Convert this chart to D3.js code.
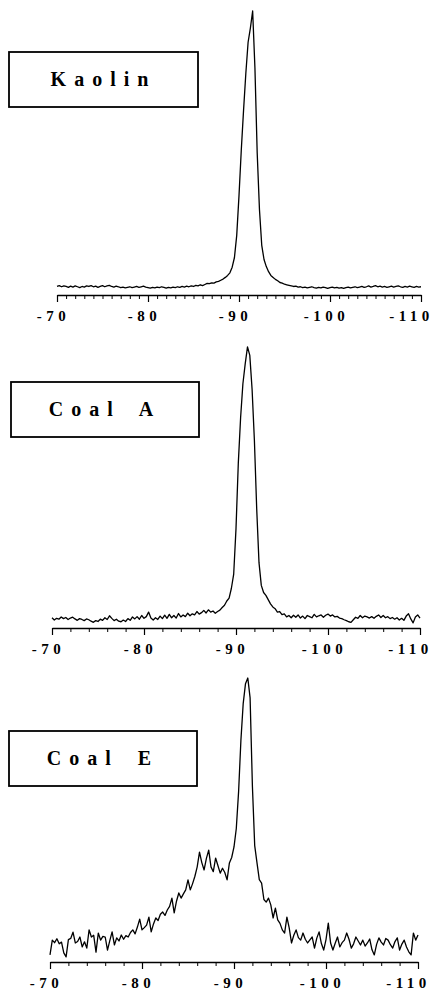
<!DOCTYPE html>
<html>
<head>
<meta charset="utf-8">
<script src="https://cdn.jsdelivr.net/npm/d3@7"></script>
<style>
  body { margin: 0; background: #fff; }
  svg text { font-family: "Liberation Serif", "DejaVu Serif", serif; font-weight: bold; fill: #000; }
</style>
</head>
<body>
<div id="chart"></div>
<script>
// chemical shift grid (ppm), shared by all three spectra
var shifts = [
  -70, -70.25, -70.5, -70.75, -71, -71.25, -71.5, -71.75, -72, -72.25, -72.5, -72.75,
  -73, -73.25, -73.5, -73.75, -74, -74.25, -74.5, -74.75, -75, -75.25, -75.5, -75.75,
  -76, -76.25, -76.5, -76.75, -77, -77.25, -77.5, -77.75, -78, -78.25, -78.5, -78.75,
  -79, -79.25, -79.5, -79.75, -80, -80.25, -80.5, -80.75, -81, -81.25, -81.5, -81.75,
  -82, -82.25, -82.5, -82.75, -83, -83.25, -83.5, -83.75, -84, -84.25, -84.5, -84.75,
  -85, -85.25, -85.5, -85.75, -86, -86.25, -86.5, -86.75, -87, -87.25, -87.5, -87.75,
  -88, -88.25, -88.5, -88.75, -89, -89.25, -89.5, -89.75, -90, -90.25, -90.5, -90.75,
  -91, -91.25, -91.5, -91.75, -92, -92.25, -92.5, -92.75, -93, -93.25, -93.5, -93.75,
  -94, -94.25, -94.5, -94.75, -95, -95.25, -95.5, -95.75, -96, -96.25, -96.5, -96.75,
  -97, -97.25, -97.5, -97.75, -98, -98.25, -98.5, -98.75, -99, -99.25, -99.5, -99.75,
  -100, -100.25, -100.5, -100.75, -101, -101.25, -101.5, -101.75, -102, -102.25, -102.5, -102.75,
  -103, -103.25, -103.5, -103.75, -104, -104.25, -104.5, -104.75, -105, -105.25, -105.5, -105.75,
  -106, -106.25, -106.5, -106.75, -107, -107.25, -107.5, -107.75, -108, -108.25, -108.5, -108.75,
  -109, -109.25, -109.5, -109.75, -110
];

// relative intensities (peak = 100)
var kaolin = [
  3.0, 3.3, 2.9, 3.2, 3.0, 2.7, 3.1, 2.8, 3.2, 2.9, 2.6, 3.0,
  2.8, 3.2, 3.0, 3.3, 2.9, 3.1, 2.7, 3.0, 3.3, 2.9, 3.2, 3.4,
  3.0, 2.8, 3.1, 2.9, 2.6, 2.8, 2.5, 2.7, 2.9, 2.6, 2.8, 3.0,
  2.7, 2.9, 3.1, 2.8, 2.6, 2.4, 2.7, 2.5, 2.8, 2.6, 2.9, 2.7,
  2.4, 2.7, 2.5, 2.8, 2.6, 2.9, 2.7, 3.0, 2.8, 3.1, 2.9, 3.2,
  3.0, 3.4, 3.2, 3.6, 3.3, 3.7, 4.1, 4.0, 4.3, 4.2, 4.6, 4.8,
  5.2, 5.6, 6.2, 6.9, 7.8, 9.8, 13.2, 21, 35, 51, 65, 78,
  89, 94, 100, 80, 50, 30, 17.5, 12.5, 10, 8.2, 6.9, 6.2,
  5.5, 5.0, 4.4, 4.2, 3.8, 3.6, 3.4, 3.2, 3.0, 3.1, 2.8, 2.9,
  2.6, 2.8, 2.5, 2.7, 2.9, 2.6, 2.4, 2.7, 2.5, 2.8, 2.6, 2.3,
  2.6, 2.8, 2.5, 2.7, 2.4, 2.6, 2.3, 2.6, 2.8, 2.5, 2.7, 2.9,
  2.6, 2.8, 3.0, 2.7, 2.9, 3.2, 2.8, 3.0, 3.3, 2.9, 3.1, 2.8,
  3.0, 2.7, 2.9, 3.1, 2.8, 3.0, 3.2, 2.9, 2.7, 3.0, 2.8, 3.1,
  2.9, 2.7, 3.0, 2.8, 2.9
];

var coalA = [
  3.6, 2.8, 3.4, 3.1, 3.9, 3.3, 3.7, 3.0, 3.5, 3.8, 3.2, 2.7,
  3.3, 3.0, 2.6, 3.2, 2.9, 2.4, 2.0, 2.6, 2.3, 3.1, 2.7, 3.6,
  3.0, 4.3, 3.4, 2.6, 3.1, 2.4, 2.2, 2.8, 2.3, 3.3, 2.7, 3.9,
  3.2, 4.0, 3.1, 4.4, 3.4, 4.0, 5.6, 3.5, 2.8, 3.6, 3.0, 4.2,
  3.3, 4.5, 3.4, 4.8, 3.6, 4.4, 3.5, 5.1, 3.9, 4.6, 4.0, 5.2,
  4.3, 5.0, 4.6, 5.8, 4.9, 5.4, 6.2, 5.3, 6.4, 5.6, 6.0, 5.2,
  5.8, 6.3, 7.2, 8.0, 9.5, 10.5, 14, 19, 35, 58, 74, 86,
  93, 99, 96, 84, 66, 42, 23, 15, 12.5, 11.5, 10, 8.5,
  7.4, 6.8, 5.6, 5.8, 4.7, 5.0, 3.9, 4.4, 3.6, 4.5, 3.8, 4.6,
  3.5, 4.2, 3.3, 4.4, 4.0, 3.6, 4.8, 3.9, 4.3, 4.6, 3.8, 4.5,
  4.9, 4.2, 4.6, 3.9, 4.1, 3.5, 3.3, 2.9, 2.6, 2.2, 2.0, 2.9,
  3.8, 3.4, 4.4, 3.6, 4.2, 3.9, 3.5, 4.0, 3.4, 4.1, 4.6, 3.7,
  4.4, 3.6, 4.0, 3.3, 3.7, 3.1, 3.6, 2.8, 3.4, 2.7, 4.2, 5.0,
  3.2, 1.8, 3.9, 4.6, 3.5
];

var coalE = [
  2.5, 7.7, 6.8, 8.2, 6.4, 7.0, 3.2, 1.8, 7.9, 8.3, 10.5, 6.7,
  7.2, 8.8, 5.3, 7.1, 4.9, 11.3, 8.8, 9.4, 3.5, 10.2, 7.7, 9.0,
  8.8, 4.2, 7.5, 10.6, 6.0, 8.5, 7.4, 9.5, 8.0, 9.3, 8.8, 10.4,
  11.3, 9.9, 12.3, 15.1, 11.3, 12.1, 13.0, 15.8, 10.6, 13.4, 15.5, 14.6,
  16.8, 17.6, 16.4, 18.3, 19.6, 22.5, 17.3, 21.4, 24.3, 22.5, 24.0, 25.4,
  28.9, 25.4, 27.6, 30.2, 33.5, 38.7, 35.0, 32.4, 36.5, 39.4, 33.5, 31.8,
  36.6, 34.0, 31.3, 33.0, 31.5, 28.9, 34.9, 36.8, 40.5, 47, 60, 78,
  91, 98, 100, 93, 62, 41, 34.9, 29.0, 27.8, 22.0, 21.1, 22.5,
  20.1, 15.5, 19.0, 14.8, 13.6, 11.3, 10.2, 15.8, 12.0, 6.7, 9.4, 11.3,
  8.6, 7.7, 10.2, 8.0, 6.7, 7.8, 8.8, 4.9, 8.4, 10.6, 6.5, 4.2,
  7.9, 13.7, 6.7, 4.2, 6.6, 8.8, 5.3, 6.8, 7.7, 10.2, 8.0, 4.9,
  6.4, 8.8, 7.4, 6.0, 7.7, 5.6, 6.7, 8.1, 4.3, 2.5, 6.2, 8.5,
  7.0, 6.0, 8.3, 7.7, 6.1, 4.9, 7.2, 8.5, 4.2, 6.3, 7.7, 5.3,
  3.6, 2.5, 10.2, 7.7, 9.5
];

var sampleNames = ["Kaolin", "Coal A", "Coal E"];
var majorTicks = [-70, -80, -90, -100, -110];
var tickLabels = ["-70", "-80", "-90", "-100", "-110"];

var W = 438, H = 992;
var svg = d3.select('#chart').append('svg').attr('width', W).attr('height', H);

// each panel: where its axis sits and where the label box goes
var panels = [
  { name: sampleNames[0], values: kaolin, x0: 57, x1: 421, axisY: 295, box: [9, 52, 189, 55], minorStep: 1 },
  { name: sampleNames[1], values: coalA,  x0: 52, x1: 420, axisY: 628, box: [11, 382, 188, 55], minorStep: 2 },
  { name: sampleNames[2], values: coalE,  x0: 50, x1: 418, axisY: 962, box: [9, 731, 188, 55], minorStep: 2 }
];

panels.forEach(function(p) {
  var x = d3.scaleLinear().domain([-70, -110]).range([p.x0, p.x1]);
  var y = d3.scaleLinear().domain([0, 100]).range([p.axisY, p.axisY - 284]);
  var g = svg.append('g');

  // minor ticks
  var minor = d3.range(-70, -110.5, -p.minorStep).filter(function(d) { return majorTicks.indexOf(d) < 0; });
  g.append('g')
    .attr('transform', 'translate(0,' + p.axisY + ')')
    .call(d3.axisBottom(x).tickValues(minor).tickSize(4).tickSizeOuter(0).tickFormat(''))
    .call(function(a) {
      a.select('.domain').attr('stroke', '#000').attr('stroke-width', 1.6);
      a.selectAll('.tick line').attr('stroke', '#000').attr('stroke-width', 1);
    });

  // major ticks + labels
  g.append('g')
    .attr('transform', 'translate(0,' + p.axisY + ')')
    .call(d3.axisBottom(x).tickValues(majorTicks).tickSize(7).tickSizeOuter(0)
      .tickFormat(function(d, i) { return tickLabels[i]; }))
    .call(function(a) {
      a.select('.domain').remove();
      a.selectAll('.tick line').attr('stroke', '#000').attr('stroke-width', 1.2);
      a.selectAll('.tick text')
        .attr('y', 26).attr('dy', 0)
        .attr('dx', function(d, i) { return i == majorTicks.length - 1 ? -10 : -4; })
        .style('font-size', '15px')
        .style('letter-spacing', '4.5px')
        .style('font-family', '"Liberation Serif", serif')
        .style('font-weight', 'bold')
        .attr('fill', '#000');
    });

  // spectrum
  var line = d3.line()
    .x(function(d, i) { return x(shifts[i]); })
    .y(function(d) { return y(d); });
  g.append('path')
    .datum(p.values)
    .attr('d', line)
    .attr('fill', 'none')
    .attr('stroke', '#000')
    .attr('stroke-width', 1.3)
    .attr('stroke-linejoin', 'round');

  // sample label box
  g.append('rect')
    .attr('x', p.box[0]).attr('y', p.box[1])
    .attr('width', p.box[2]).attr('height', p.box[3])
    .attr('fill', 'none').attr('stroke', '#000').attr('stroke-width', 1.8);
  g.append('text')
    .attr('x', p.box[0] + p.box[2] / 2)
    .attr('y', p.box[1] + 34)
    .attr('text-anchor', 'middle')
    .style('font-size', '20px')
    .style('letter-spacing', '8px')
    .style('word-spacing', '6px')
    .text(p.name);
});
</script>
</body>
</html>
